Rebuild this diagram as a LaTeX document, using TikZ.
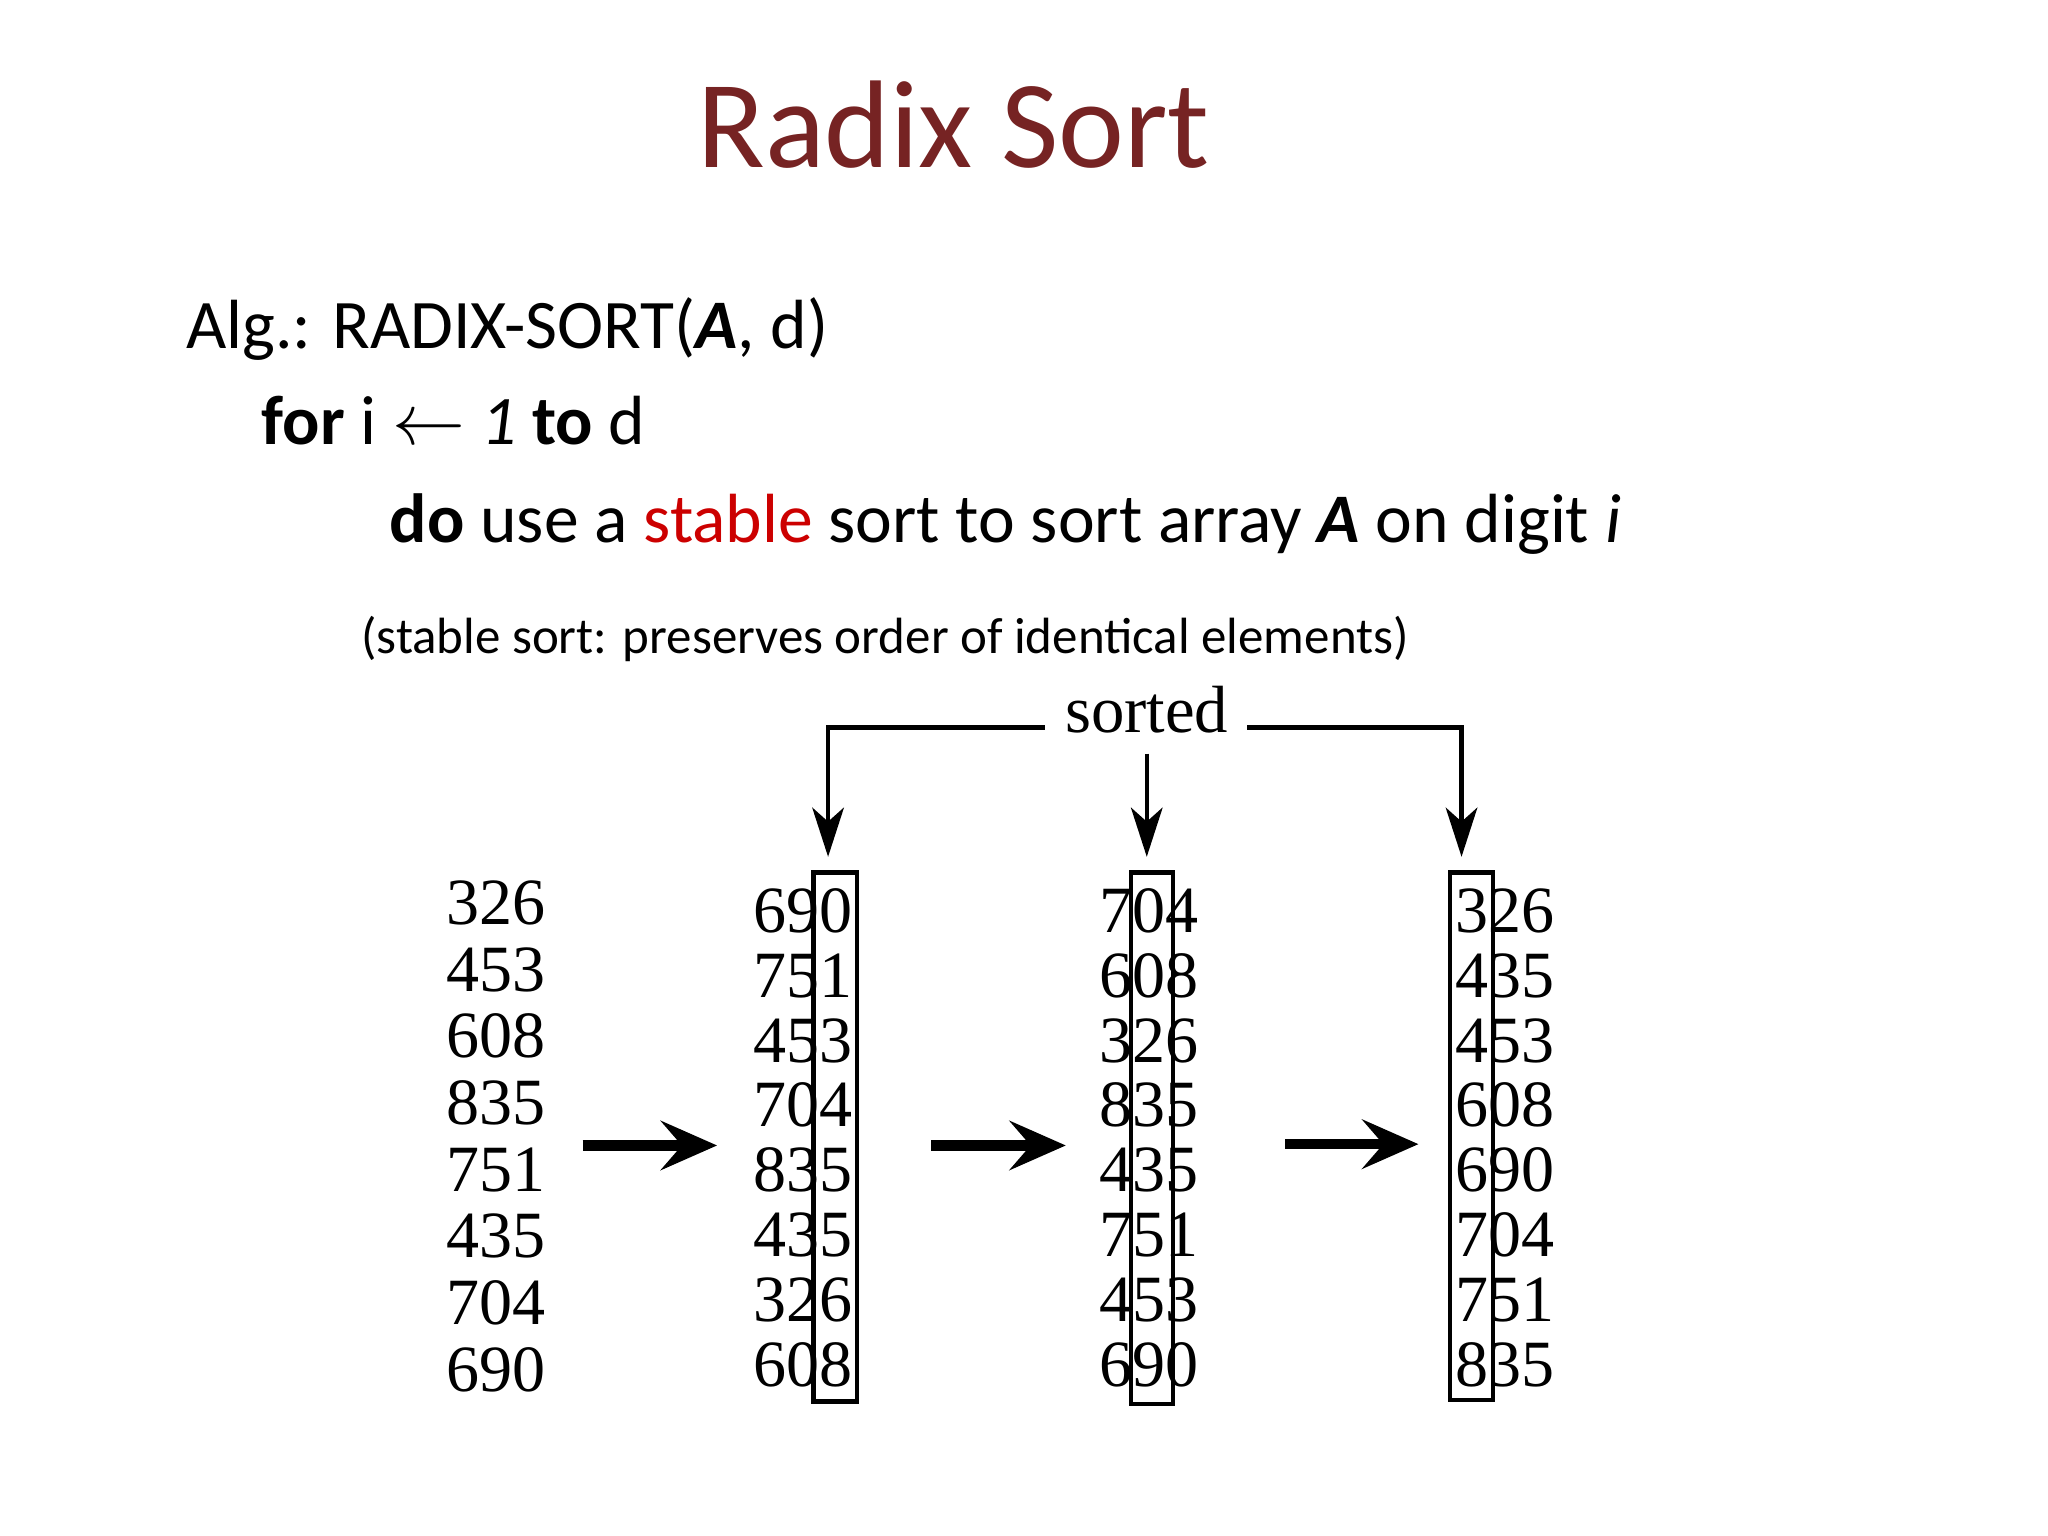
\documentclass[tikz,border=0pt]{standalone}
\usepackage{fontspec}
\setmainfont{Carlito}
\newfontfamily\tms{Liberation Serif}
\usetikzlibrary{arrows.meta}
\definecolor{titlered}{RGB}{118,35,35}
\definecolor{stab}{RGB}{204,0,0}
\begin{document}
\begin{tikzpicture}[x=0.01306cm,y=-0.01306cm,
  num/.style={font=\tms\fontsize{18.8pt}{20pt}\selectfont,anchor=base,inner sep=0pt},
  line/.style={anchor=base west,inner sep=0pt,font=\fontsize{19.8pt}{22pt}\selectfont},
  fat/.style={line width=3pt,-{Stealth[length=16pt,width=14pt,inset=6pt]}},
  thin/.style={line width=1.2pt,-{Stealth[length=14pt,width=9pt,inset=4pt]}},
  col/.style={draw,line width=1.3pt}]
\useasboundingbox (0,0) rectangle (1568,1176);
\node[anchor=base,text=titlered,font=\fontsize{35.5pt}{40pt}\selectfont] (title) at (730,128) {Radix Sort};
\node[line] (l1) at (142,267) {Alg.: RADIX-SORT(\textbf{\textit{A}}, d)};
\node[line] (l2) at (200,340) {\textbf{for} i $\leftarrow$ \textit{1} \textbf{to} d};
\node[line] (l3) at (298,415) {\textbf{do} use a \textcolor{stab}{stable} sort to sort array \textbf{\textit{A}} on digit \textit{i}};
\node[line,font=\fontsize{14.5pt}{17pt}\selectfont] (l4) at (276,500) {(stable sort: preserves order of identical elements)};
% columns
\foreach \n [count=\k from 0] in {326,453,608,835,751,435,704,690}
  \node[num] (a\k) at (380,{708+51*\k}) {\n};
\foreach \n [count=\k from 0] in {690,751,453,704,835,435,326,608}
  \node[num] (b\k) at (615,{714+49.6*\k}) {\n};
\foreach \n [count=\k from 0] in {704,608,326,835,435,751,453,690}
  \node[num] (c\k) at (880,{714+49.6*\k}) {\n};
\foreach \n [count=\k from 0] in {326,435,453,608,690,704,751,835}
  \node[num] (d\k) at (1152,{714+49.6*\k}) {\n};
\draw[col] (623,668) rectangle (656,1073);
\draw[col] (866,668) rectangle (898,1075);
\draw[col] (1110,668) rectangle (1143,1072);
% fat arrows
\coordinate (f1a) at (446,877); \coordinate (f1b) at (549,877);
\coordinate (f2a) at (713,877); \coordinate (f2b) at (816,877);
\coordinate (f3a) at (984,876); \coordinate (f3b) at (1086,876);
\draw[fat] (f1a) -- (f1b);
\draw[fat] (f2a) -- (f2b);
\draw[fat] (f3a) -- (f3b);
% sorted
\node[anchor=base,font=\tms\fontsize{19pt}{20pt}\selectfont,inner sep=0pt] (sorted) at (878,561) {sorted};
\coordinate (s1) at (800,557); \coordinate (s2) at (955,557);
\coordinate (t1) at (634,656); \coordinate (t2) at (878,656); \coordinate (t3) at (1119,656);
\coordinate (s0) at (878,577);
\draw[thin] (s1) -| (t1);
\draw[thin] (s2) -| (t3);
\draw[thin] (s0) -- (t2);
\end{tikzpicture}
\end{document}
